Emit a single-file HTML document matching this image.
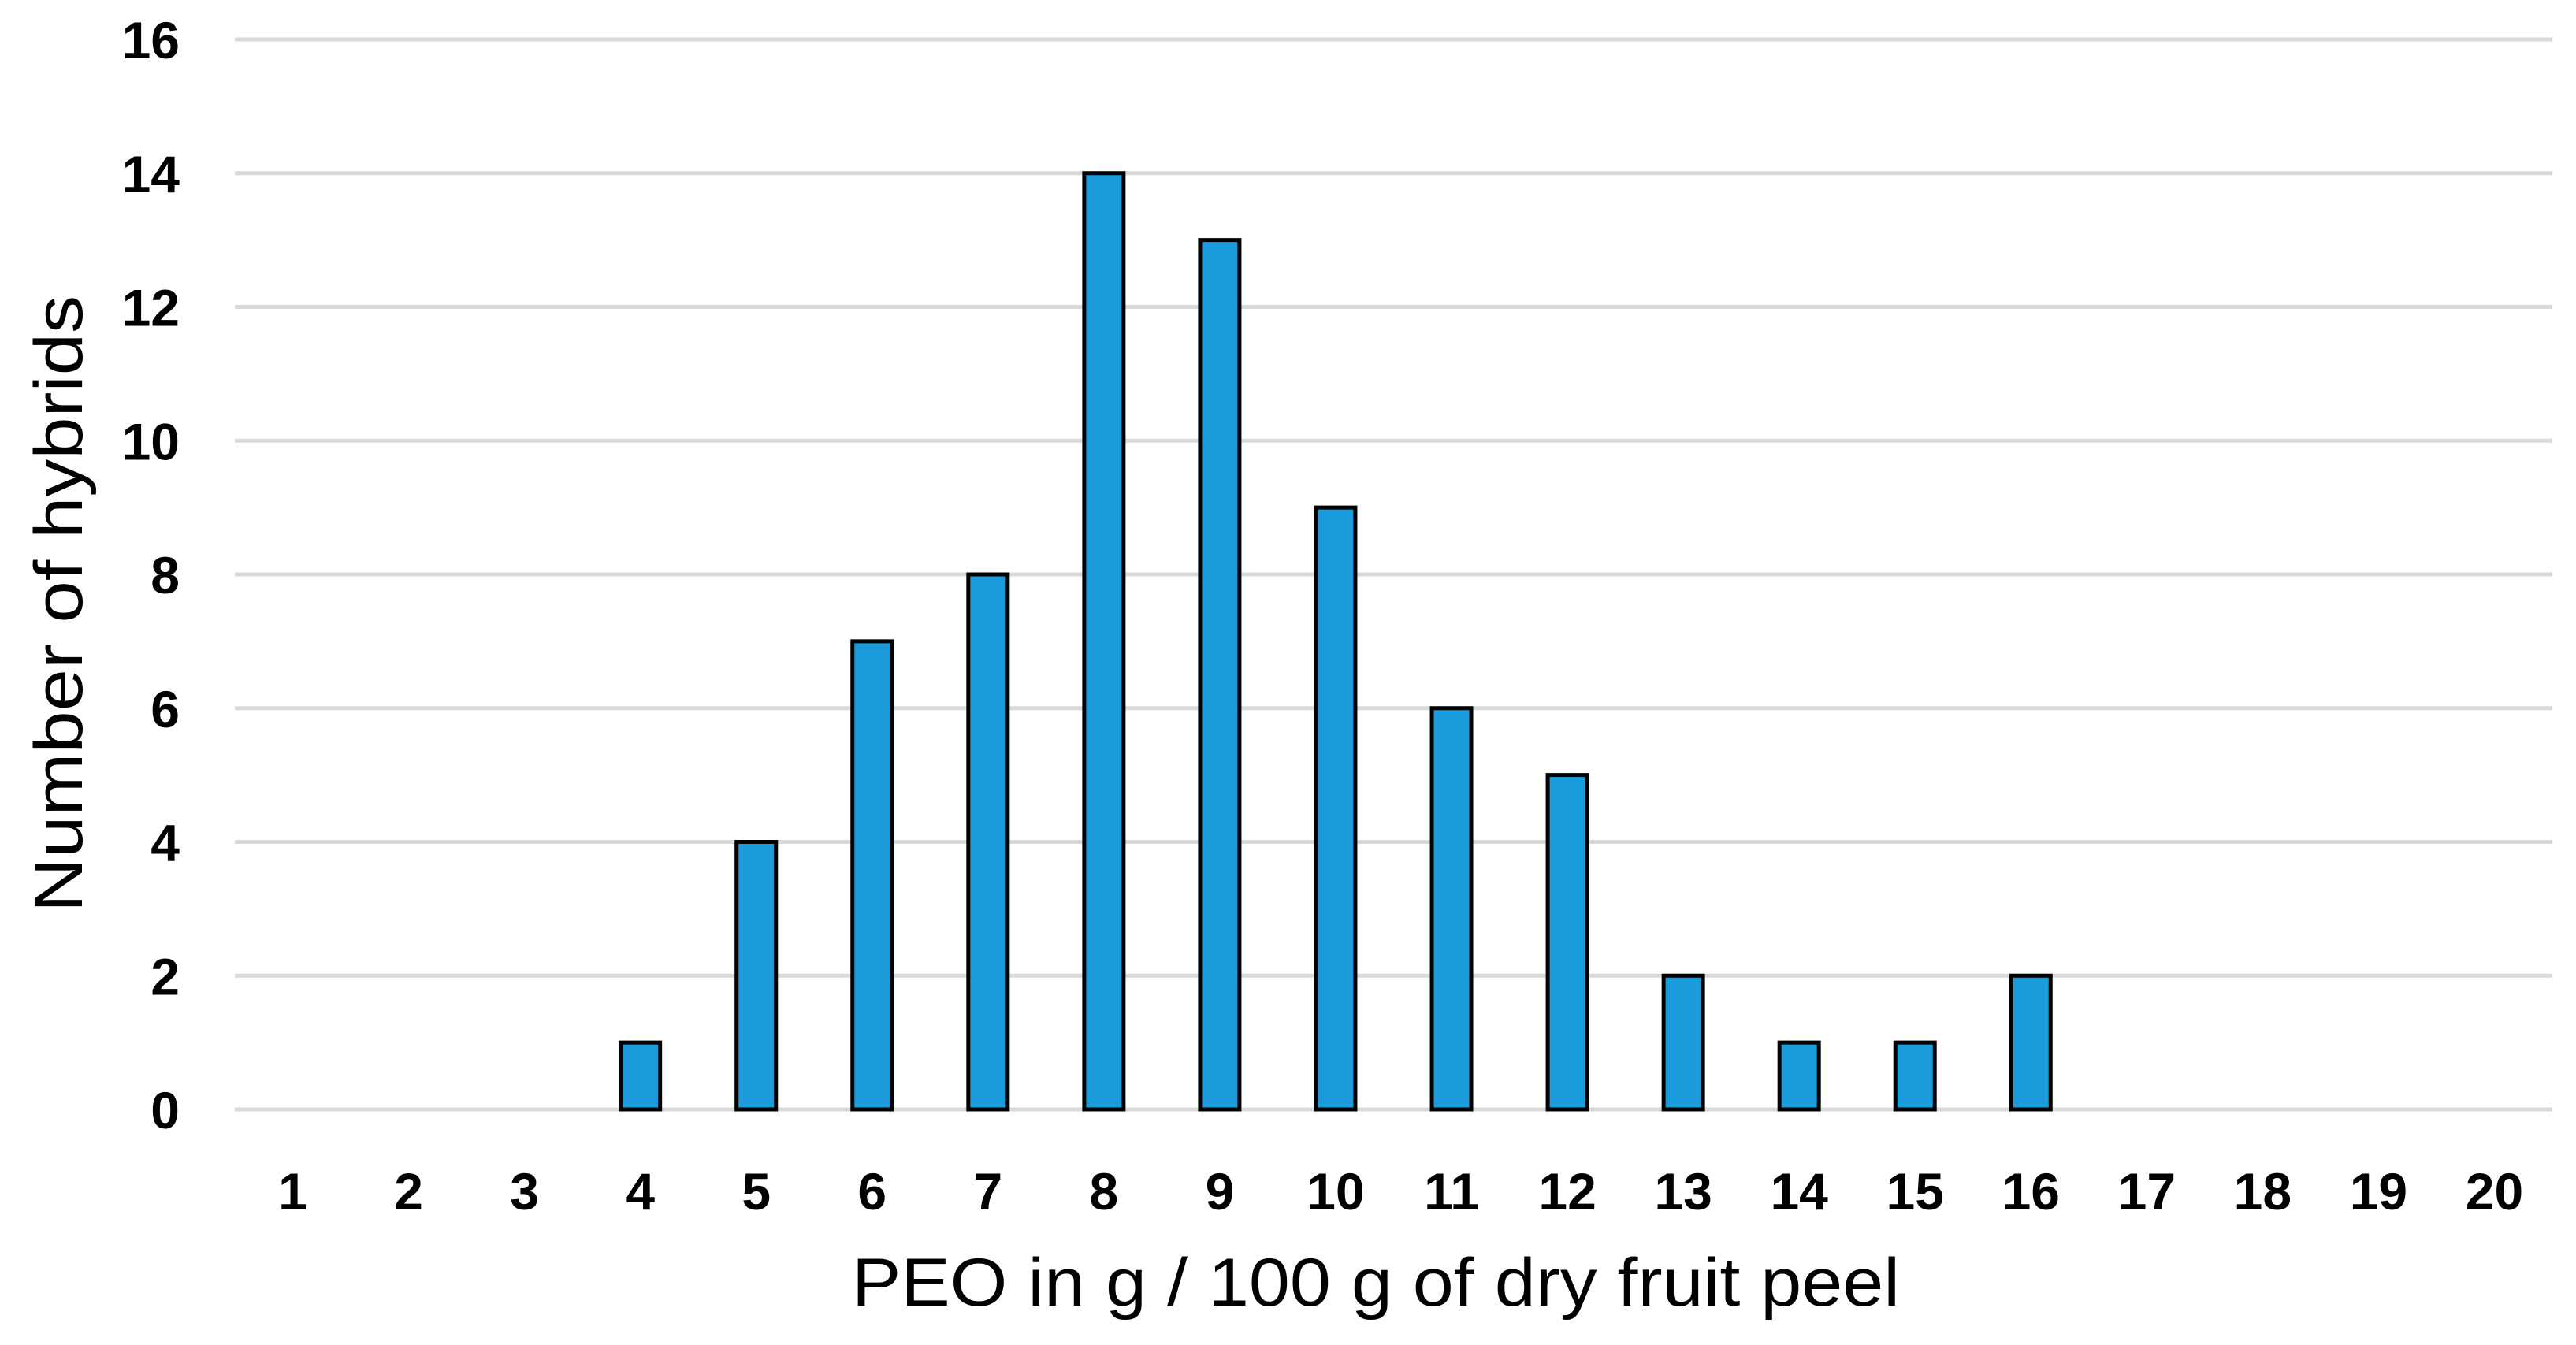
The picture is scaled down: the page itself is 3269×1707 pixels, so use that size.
<!DOCTYPE html>
<html><head><meta charset="utf-8">
<style>
html,body{margin:0;padding:0;background:#fff;}
svg{display:block;}
text{font-family:"Liberation Sans",sans-serif;fill:#000;}
</style></head>
<body>
<svg id="chart" width="3269" height="1707" viewBox="0 0 3269 1707" xmlns="http://www.w3.org/2000/svg">
<rect width="3269" height="1707" fill="#fff"/>
<g id="grid"></g>
<g id="bars"></g>
<g id="ylabels"></g>
<g id="xlabels"></g>
<text x="1081" y="1657" font-size="86" textLength="1330" lengthAdjust="spacingAndGlyphs">PEO in g / 100 g of dry fruit peel</text>
<text transform="translate(104,1158) rotate(-90)" x="0" y="0" font-size="86" textLength="783" lengthAdjust="spacingAndGlyphs">Number of hybrids</text>
</svg>
<script>
const categories = [1,2,3,4,5,6,7,8,9,10,11,12,13,14,15,16,17,18,19,20];
const counts = [0,0,0,1,4,7,8,14,13,9,6,5,2,1,1,2,0,0,0,0];
const yTicks = [0,2,4,6,8,10,12,14,16];

const NS = "http://www.w3.org/2000/svg";
const plotLeft = 298, plotRight = 3239, y0 = 1408, yTop = 50, yMax = 16;
const band = (plotRight - plotLeft) / categories.length;
const barW = 50;
function xCenter(i){ return plotLeft + band * (i + 0.5); }
function yScale(v){ return y0 - (y0 - yTop) * v / yMax; }

const grid = document.getElementById('grid');
const ylabels = document.getElementById('ylabels');
yTicks.forEach(t => {
  const l = document.createElementNS(NS,'line');
  l.setAttribute('x1', plotLeft); l.setAttribute('x2', plotRight);
  l.setAttribute('y1', yScale(t)); l.setAttribute('y2', yScale(t));
  l.setAttribute('stroke', '#d9d9d9'); l.setAttribute('stroke-width', 5);
  
  
  grid.appendChild(l);
  const tx = document.createElementNS(NS,'text');
  tx.setAttribute('x', 228); tx.setAttribute('y', yScale(t) + 24);
  tx.setAttribute('text-anchor', 'end'); tx.setAttribute('font-size', 66);
  tx.setAttribute('font-weight', 'bold');
  tx.textContent = t;
  
  
  ylabels.appendChild(tx);
});

const bars = document.getElementById('bars');
const xlabels = document.getElementById('xlabels');
categories.forEach((c, i) => {
  const v = counts[i];
  if (v > 0) {
    const r = document.createElementNS(NS,'rect');
    r.setAttribute('x', xCenter(i) - barW/2);
    r.setAttribute('y', yScale(v));
    r.setAttribute('width', barW);
    r.setAttribute('height', y0 - yScale(v));
    r.setAttribute('fill', '#1a9bdc');
    r.setAttribute('stroke', '#000');
    r.setAttribute('stroke-width', 5);
    
    
    bars.appendChild(r);
  }
  const tx = document.createElementNS(NS,'text');
  tx.setAttribute('x', xCenter(i)); tx.setAttribute('y', 1535);
  tx.setAttribute('text-anchor', 'middle'); tx.setAttribute('font-size', 66);
  tx.setAttribute('font-weight', 'bold');
  tx.textContent = c;
  
  
  xlabels.appendChild(tx);
});
</script>
</body></html>
